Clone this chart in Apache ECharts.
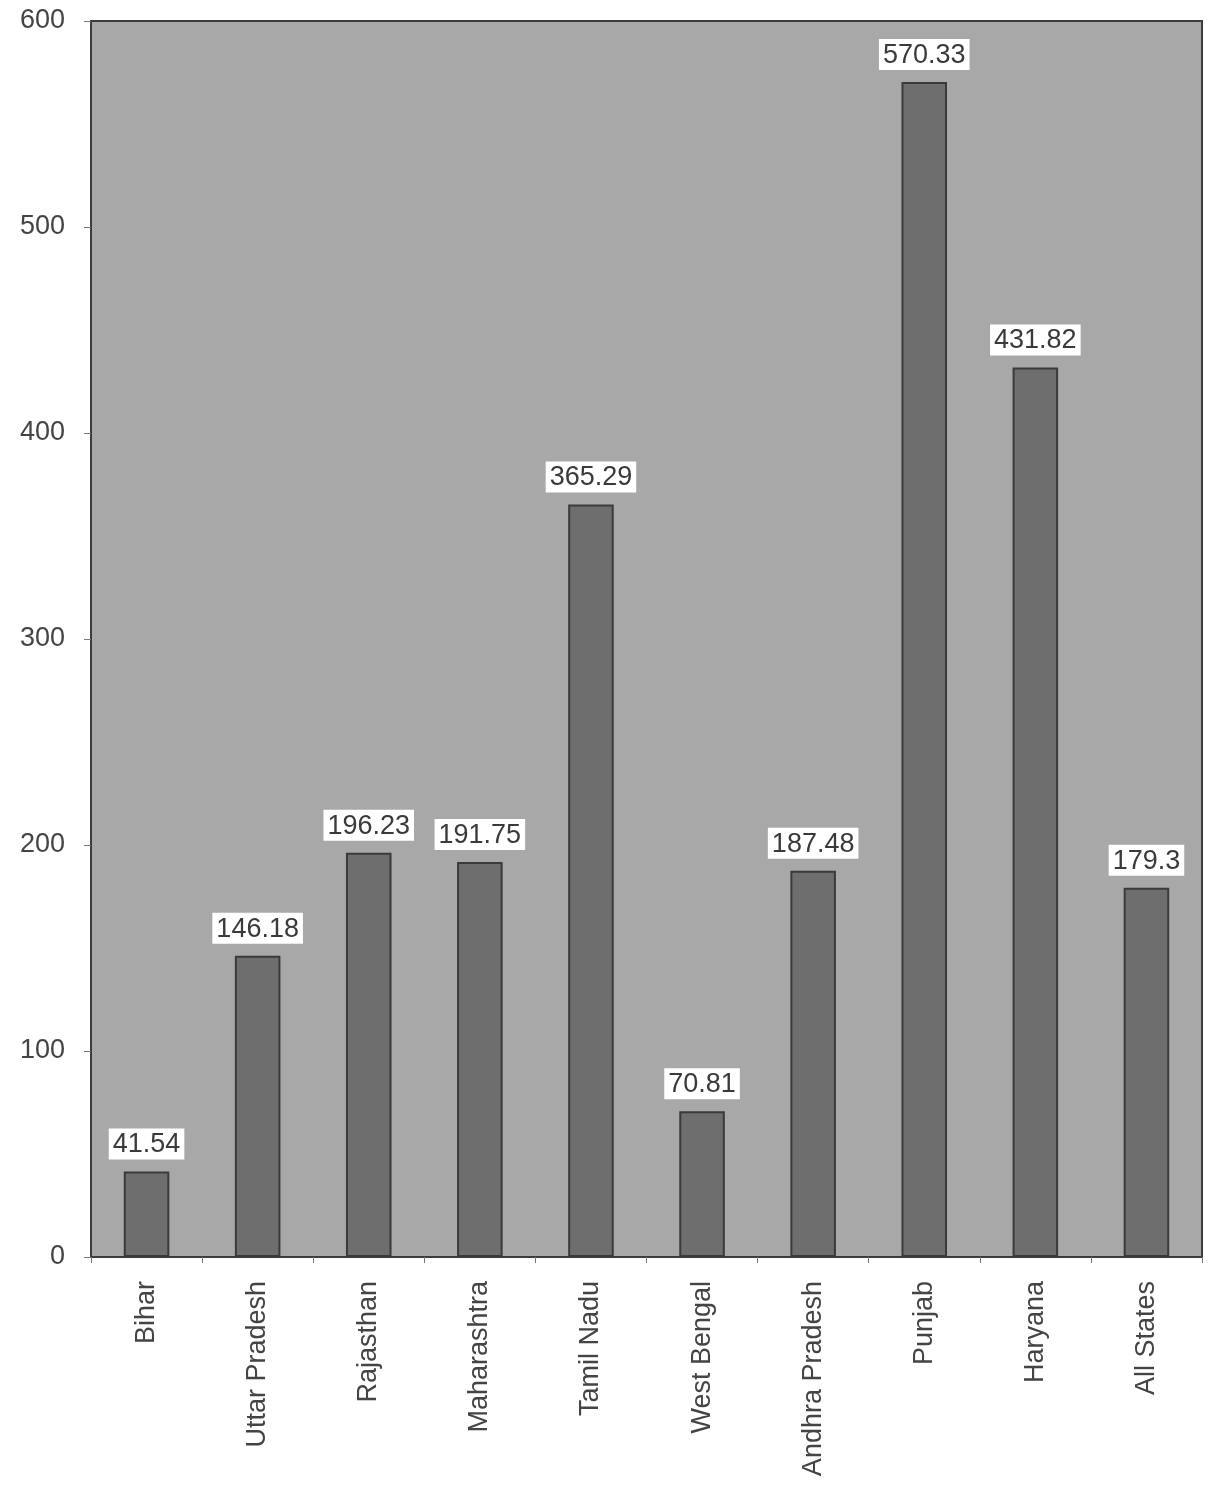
<!DOCTYPE html>
<html>
<head>
<meta charset="utf-8">
<script src="https://cdn.jsdelivr.net/npm/echarts@6/dist/echarts.min.js"></script>
<style>
html,body{margin:0;padding:0;background:#fff;}
#chart{width:1208px;height:1495px;}
</style>
</head>
<body>
<div id="chart"></div>
<script>
const categories = ['Bihar','Uttar Pradesh','Rajasthan','Maharashtra','Tamil Nadu','West Bengal','Andhra Pradesh','Punjab','Haryana','All States'];
const values = [41.54,146.18,196.23,191.75,365.29,70.81,187.48,570.33,431.82,179.3];
const yTicks = {min:0,max:600,interval:100};

const FONT = 'Liberation Sans, Arial, sans-serif';
const chart = echarts.init(document.getElementById('chart'));
chart.setOption({
  backgroundColor:'#ffffff',
  animation:false,
  grid:{left:91,right:6,top:21,bottom:238,show:true,backgroundColor:'#a8a8a8',borderColor:'#3c3c3c',borderWidth:2},
  xAxis:{
    type:'category',
    data:categories,
    axisLine:{lineStyle:{color:'#3c3c3c',width:2}},
    axisTick:{show:true,length:6,lineStyle:{color:'#777'}},
    axisLabel:{rotate:90,fontFamily:FONT,fontSize:27,color:'#444',margin:24}
  },
  yAxis:{
    type:'value',
    min:yTicks.min,max:yTicks.max,interval:yTicks.interval,
    splitLine:{show:false},
    axisLine:{show:true,lineStyle:{color:'#3c3c3c',width:2}},
    axisTick:{show:true,length:7,lineStyle:{color:'#777'}},
    axisLabel:{fontFamily:FONT,fontSize:27,color:'#444',margin:26}
  },
  series:[{
    type:'bar',
    data:values,
    barWidth:'41%',
    itemStyle:{color:'#6e6e6e',borderColor:'#3a3a3a',borderWidth:2},
    label:{
      show:true,position:'top',distance:12,
      fontFamily:FONT,fontSize:27,color:'#3a3a3a',
      backgroundColor:'#ffffff',padding:[3,4,1,4]
    }
  }]
});
</script>
</body>
</html>
